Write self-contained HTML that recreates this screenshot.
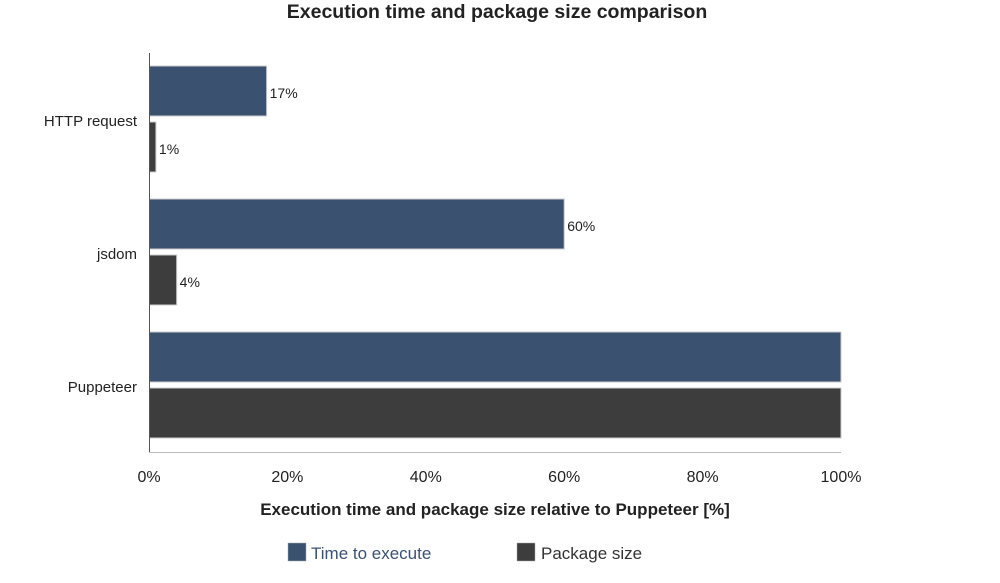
<!DOCTYPE html>
<html><head><meta charset="utf-8"><style>
body{margin:0;background:#fff;font-family:"Liberation Sans",sans-serif}
svg{display:block}
</style></head><body>
<svg id="chart" width="1000" height="583">
<text x="497" y="18" text-anchor="middle" font-size="19.5" font-weight="bold" fill="#222">Execution time and package size comparison</text>
<g id="bars"></g>
<line x1="149.5" y1="53" x2="149.5" y2="452" stroke="#555"/>
<line x1="149" y1="452.5" x2="841" y2="452.5" stroke="#bbb"/>
<g id="ticks"></g>
<text x="495" y="515" text-anchor="middle" font-size="17" font-weight="bold" fill="#222">Execution time and package size relative to Puppeteer [%]</text>
<g><rect x="288" y="543" width="18" height="18" fill="#3b5170" stroke="#aaa" stroke-width="0.5"/><text x="311" y="559" font-size="17" fill="#3b5170">Time to execute</text></g>
<g><rect x="517" y="543" width="18" height="18" fill="#3d3d3d" stroke="#aaa" stroke-width="0.5"/><text x="541" y="559" font-size="17" fill="#333">Package size</text></g>
</svg>
<script>
const categories = ["HTTP request", "jsdom", "Puppeteer"];
const timeValues = [17, 60, 100];
const sizeValues = [1, 4, 100];
const xTicks = [0, 20, 40, 60, 80, 100];
const ns = "http://www.w3.org/2000/svg";
const x = v => 149 + v * 6.92;
const bandTop = i => 53 + i * 133;
const bars = document.getElementById("bars");
const ticks = document.getElementById("ticks");
function mk(tag, attrs, parent){const e=document.createElementNS(ns,tag);for(const k in attrs)e.setAttribute(k,attrs[k]);parent.appendChild(e);return e;}
categories.forEach((c,i)=>{
  const t = mk("text",{x:137,y:bandTop(i)+73,"text-anchor":"end","font-size":15,fill:"#222"},ticks);
  t.textContent = c;
  
  
  [[timeValues,"#3b5170",13,"time"],[sizeValues,"#3d3d3d",69,"size"]].forEach(([arr,col,off,nm])=>{
    const v = arr[i];
    const r = mk("rect",{x:149.5,y:bandTop(i)+off,width:x(v)-149.5,height:50,fill:col,stroke:"#ccc","stroke-width":1},bars);
    
    
    if (v < 100) {
      const l = mk("text",{x:x(v)+3,y:bandTop(i)+off+32,"font-size":14,fill:"#222"},bars);
      l.textContent = v + "%";
      
      
    }
  });
});
xTicks.forEach(v=>{
  const t = mk("text",{x:x(v),y:482,"text-anchor":"middle","font-size":16,fill:"#222"},ticks);
  t.textContent = v + "%";
  
  
});
</script>
</body></html>
